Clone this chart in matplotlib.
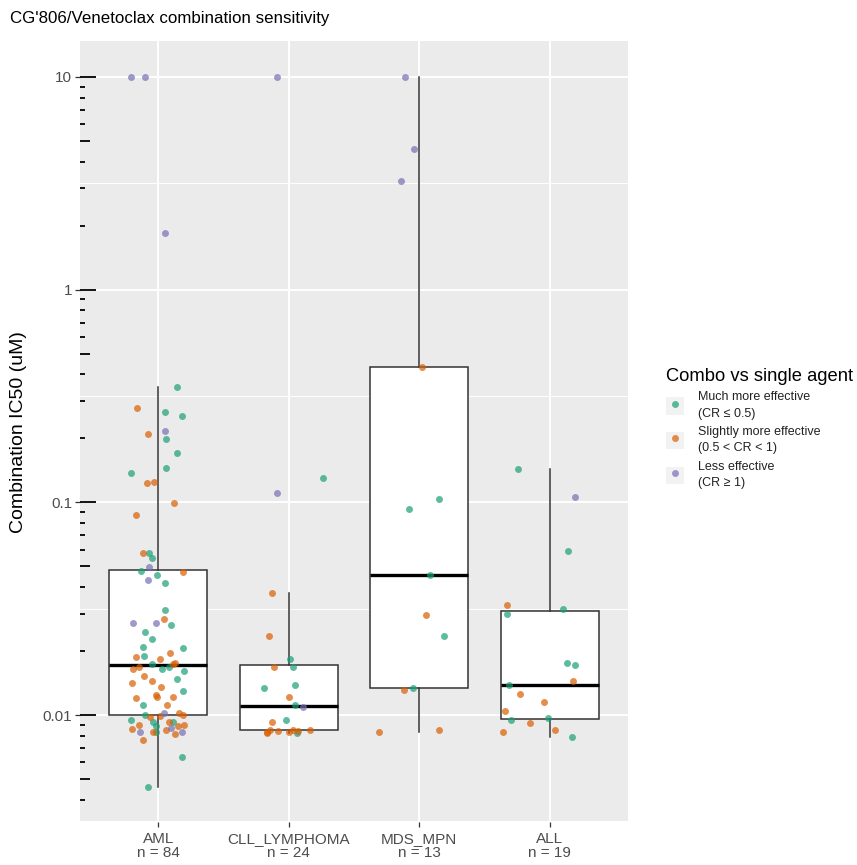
"""CG'806/Venetoclax combination IC50 by disease group, ggplot-like box + jitter."""

import matplotlib

matplotlib.use("Agg")
import matplotlib.pyplot as plt
import numpy as np
from matplotlib import cbook
from matplotlib.legend_handler import HandlerTuple
from matplotlib.lines import Line2D
from matplotlib.patches import Rectangle
from matplotlib.ticker import FixedLocator, NullFormatter

plt.rcParams["font.family"] = ["Liberation Sans", "DejaVu Sans"]

GROUPS = ["AML", "CLL_LYMPHOMA", "MDS_MPN", "ALL"]
CLASSES = ["M", "S", "L"]
CLASS_LABELS = [
    "Much more effective\n(CR \u2264 0.5)",
    "Slightly more effective\n(0.5 < CR < 1)",
    "Less effective\n(CR \u2265 1)",
]
CLASS_COLORS = ["#1B9E77", "#D95F02", "#7570B3"]

# IC50 (uM), response class (M/S/L) and the jitter offset
AML_IC50 = [10, 10, 1.85, 0.35, 0.278, 0.266, 0.255, 0.21, 0.216, 0.199, 0.171, 0.145,
            0.137, 0.123, 0.124, 0.099, 0.087, 0.0578, 0.0578, 0.0548, 0.0497, 0.0475,
            0.0471, 0.0456, 0.0432, 0.0418, 0.0312, 0.0283, 0.0271, 0.0271, 0.0265,
            0.0246, 0.0228, 0.0209, 0.0207, 0.019, 0.0188, 0.0184, 0.0165, 0.0169,
            0.0174, 0.0174, 0.0176, 0.0165, 0.0169, 0.0161, 0.0153, 0.0142, 0.0144,
            0.013, 0.012, 0.0124, 0.0121, 0.0122, 0.0111, 0.0102, 0.0100, 0.0102,
            0.0099, 0.0100, 0.0095, 0.0093, 0.0090, 0.0089, 0.0093, 0.0093, 0.0090,
            0.0089, 0.0086, 0.0087, 0.0083, 0.0083, 0.0076, 0.0081, 0.0083, 0.0083,
            0.00635, 0.0046, 0.0135, 0.0112, 0.0098, 0.0085, 0.0148, 0.0195]
AML_CLASS = list("LLLMSMMSLMMMMSSSSSMMLMSMLMMSLLMMMMMMSSSSMSSMMMSSSMSSSSSSSLSMMMSMSMSS"
                 "SLSLSSLMMMSMSSMS")
AML_JITTER = [-0.21, -0.10, 0.05, 0.14, -0.16, 0.05, 0.18, -0.08, 0.05, 0.06, 0.14, 0.06,
              -0.21, -0.09, -0.03, 0.12, -0.17, -0.12, -0.07, -0.05, -0.07, -0.13, 0.19,
              -0.01, -0.08, 0.05, 0.05, 0.04, -0.19, -0.02, 0.10, -0.10, -0.05, -0.12,
              0.19, -0.11, -0.17, 0.01, -0.19, -0.15, -0.05, 0.11, 0.13, 0.03, 0.08, 0.20,
              -0.11, -0.20, -0.05, 0.19, -0.17, -0.02, -0.01, 0.11, 0.07, 0.16, 0.19, 0.04,
              0.01, -0.10, -0.21, -0.04, -0.15, -0.02, 0.08, 0.11, 0.20, 0.15, -0.20, 0.10,
              -0.04, -0.14, -0.12, 0.13, 0.18, -0.02, 0.18, -0.08, 0.02, -0.12, -0.06,
              0.06, 0.14, 0.09]

CLL_IC50 = [10, 0.111, 0.13, 0.0375, 0.0236, 0.0184, 0.0168, 0.0168, 0.0134, 0.0138,
            0.0122, 0.0112, 0.0109, 0.0095, 0.0093, 0.0082, 0.0085, 0.0084, 0.0083,
            0.0085, 0.0082, 0.0085, 0.0083, 0.0084]
CLL_CLASS = list("LLMSSMMSMMSMLMSSSSSSMSSS")
CLL_JITTER = [-0.09, -0.09, 0.26, -0.13, -0.15, 0.01, 0.03, -0.11, -0.19, 0.05, 0.00,
              0.05, 0.11, -0.02, -0.13, -0.17, -0.14, -0.08, 0.00, 0.03, 0.06, 0.16,
              -0.17, 0.07]

MDS_IC50 = [10, 4.58, 3.24, 0.433, 0.104, 0.093, 0.0456, 0.0296, 0.0236, 0.0134, 0.0131,
            0.0083, 0.0085]
MDS_CLASS = list("LLLSMMMSMMSSS")
MDS_JITTER = [-0.11, -0.04, -0.14, 0.02, 0.15, -0.08, 0.08, 0.05, 0.19, -0.05, -0.12,
              -0.31, 0.15]

ALL_IC50 = [0.144, 0.106, 0.059, 0.033, 0.0316, 0.030, 0.0175, 0.0172, 0.0145, 0.0138,
            0.0125, 0.0115, 0.0105, 0.0097, 0.0095, 0.0092, 0.0085, 0.0083, 0.0079]
ALL_CLASS = list("MLMSMMMMSMSSSMMSSSM")
ALL_JITTER = [-0.24, 0.19, 0.14, -0.33, 0.10, -0.33, 0.13, 0.19, 0.18, -0.31, -0.23,
              -0.04, -0.34, -0.01, -0.30, -0.15, 0.04, -0.36, 0.17]

DATA = [
    (AML_IC50, AML_CLASS, AML_JITTER),
    (CLL_IC50, CLL_CLASS, CLL_JITTER),
    (MDS_IC50, MDS_CLASS, MDS_JITTER),
    (ALL_IC50, ALL_CLASS, ALL_JITTER),
]

W, H = 857, 865
fig = plt.figure(figsize=(W / 100, H / 100), dpi=100)
ax = fig.add_axes([80 / W, 1 - 822 / H, 548 / W, 781 / H])
ax.set_facecolor("#EBEBEB")
for s in ax.spines.values():
    s.set_visible(False)
ax.set_yscale("log")

positions = np.arange(1, len(GROUPS) + 1)

# box stats are computed on log10 values, as ggplot does with a log scale
stats = []
for vals, _, _ in DATA:
    st = cbook.boxplot_stats(np.log10(vals), whis=1.5)[0]
    for key in ("med", "q1", "q3", "whislo", "whishi", "mean"):
        st[key] = 10 ** st[key]
    st["fliers"] = []
    stats.append(st)

ax.bxp(
    stats,
    positions=positions,
    widths=0.75,
    showfliers=False,
    patch_artist=True,
    showcaps=False,
    boxprops=dict(facecolor="white", edgecolor="#333333", linewidth=1.1),
    whiskerprops=dict(color="#333333", linewidth=1.1),
    medianprops=dict(color="black", linewidth=2.4),
    zorder=2,
)

for pos, (vals, cls, jit) in zip(positions, DATA):
    vals = np.asarray(vals)
    jit = np.asarray(jit)
    cls = np.asarray(cls)
    for c, color in zip(CLASSES, CLASS_COLORS):
        sel = cls == c
        ax.plot(pos + jit[sel], vals[sel], "o", ms=5, color=color, alpha=0.7,
                mec="none", zorder=3)

ax.set_xlim(0.4, 4.6)
ax.set_ylim(10 ** -2.503, 10 ** 1.169)

# axis ticks and grid
major = [0.01, 0.1, 1, 10]
ax.yaxis.set_major_locator(FixedLocator(major))
ax.yaxis.set_minor_locator(FixedLocator([10 ** (k + 0.5) for k in range(-3, 1)]))
ax.yaxis.set_minor_formatter(NullFormatter())
ax.set_yticklabels(["0.01", "0.1", "1", "10"])
ax.set_xticks(positions)
ax.set_xticklabels([f"{g}\nn = {len(d[0])}" for g, d in zip(GROUPS, DATA)],
                   linespacing=1.05)
ax.tick_params(axis="both", which="major", length=3.5, width=0.9, color="#333333",
               labelcolor="#4D4D4D", labelsize=11)
ax.tick_params(axis="y", which="minor", length=0)
ax.tick_params(axis="y", pad=2)
ax.tick_params(axis="x", pad=3.5)
ax.grid(True, which="major", color="white", linewidth=1.4, zorder=0)
ax.grid(True, which="minor", axis="y", color="white", linewidth=0.7, zorder=0)
ax.set_axisbelow(True)

# annotation_logticks style marks on the left edge of the panel
panel_px = 548
for k in range(-3, 2):
    for m in range(1, 10):
        length = 16 if m == 1 else (10 if m == 5 else 5)
        ax.plot([0, length / panel_px], [m * 10 ** k] * 2, color="black", lw=1.3,
                transform=ax.get_yaxis_transform(), solid_capstyle="butt", zorder=4)

fig.text(10 / W, 1 - 18 / H, "CG'806/Venetoclax combination sensitivity",
         fontsize=12.2, va="center", ha="left")
fig.text(19 / W, 1 - 432 / H, "Combination IC50 (uM)", fontsize=14, rotation=90,
         va="center", ha="center")

handles = [
    (Rectangle((0, 0), 1, 1, facecolor="#F2F2F2", edgecolor="none"),
     Line2D([], [], marker="o", ls="none", ms=5, color=c, alpha=0.7, mec="none"))
    for c in CLASS_COLORS
]
leg = fig.legend(
    handles,
    CLASS_LABELS,
    loc="upper left",
    bbox_to_anchor=(666 / W, 1 - 368 / H),
    title="Combo vs single agent",
    title_fontsize=13.2,
    fontsize=9,
    frameon=False,
    alignment="left",
    handler_map={tuple: HandlerTuple(ndivide=1, pad=0)},
    handlelength=1.4,
    handleheight=1.75,
    handletextpad=1.2,
    labelspacing=0.5,
    borderaxespad=0,
    borderpad=0,
)
for t in leg.get_texts():
    t.set_color("#222222")
    t.set_linespacing(1.5)

fig.savefig("out.png", dpi=100)
